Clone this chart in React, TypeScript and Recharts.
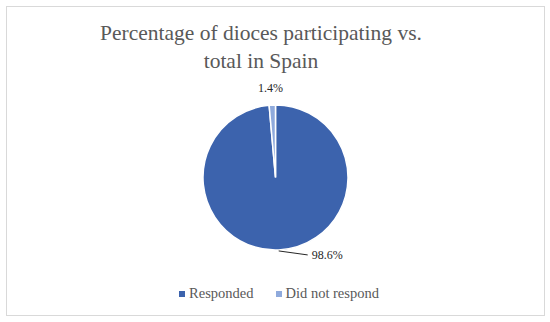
import React from "react";
import { PieChart, Pie, Cell, Legend } from "recharts";

const CATEGORIAS = ["Responded", "Did not respond"];
const PORCENTAJES = [98.6, 1.4];
const COLORES = ["#3c63ad", "#8faadc"];

const FUENTE = "'Liberation Serif', 'DejaVu Serif', serif";
const RAD = Math.PI / 180;

const datos = CATEGORIAS.map((name, i) => ({ name, value: PORCENTAJES[i] }));

// Etiqueta de cada porción: la grande lleva una línea guía hacia abajo a la
// derecha, la chica va justo encima del borde sin línea.
function Etiqueta(props: any) {
  const { cx, cy, midAngle, outerRadius, index, value } = props;
  const cos = Math.cos(-midAngle * RAD);
  const sin = Math.sin(-midAngle * RAD);
  const texto = `${Number(value).toFixed(1)}%`;
  if (index === 0) {
    const x0 = cx + outerRadius * cos;
    const y0 = cy + outerRadius * sin;
    const x1 = x0 + 29;
    const y1 = y0 + 5;
    return (
      <g>
        <path d={`M${x0},${y0 + 1}L${x1},${y1}`} stroke="#262626" strokeWidth={1} fill="none" />
        <text x={x1 + 4} y={y1} fill="#262626" fontSize={12} fontFamily={FUENTE} dominantBaseline="central">
          {texto}
        </text>
      </g>
    );
  }
  const r = outerRadius + 17;
  return (
    <text
      x={cx + r * cos - 1}
      y={cy + r * sin}
      fill="#262626"
      fontSize={12}
      fontFamily={FUENTE}
      textAnchor="middle"
      dominantBaseline="central"
    >
      {texto}
    </text>
  );
}

// Leyenda propia para mantener el orden de las categorías (Recharts las
// ordena alfabéticamente).
function Leyenda() {
  return (
    <div
      style={{
        display: "flex",
        justifyContent: "center",
        gap: 22,
        paddingLeft: 8,
        fontFamily: FUENTE,
        fontSize: 14.5,
        color: "#595959",
      }}
    >
      {CATEGORIAS.map((c, i) => (
        <span key={c} style={{ display: "flex", alignItems: "center" }}>
          <span style={{ width: 6, height: 6, background: COLORES[i], marginRight: 4, display: "inline-block" }} />
          {c}
        </span>
      ))}
    </div>
  );
}

export default function App() {
  return (
    <div style={{ position: "absolute", left: 0, top: 0, width: 550, height: 322, background: "#fff" }}>
      <div
        style={{
          position: "absolute",
          left: 6,
          top: 6,
          width: 537,
          height: 308,
          border: "1px solid #d9d9d9",
        }}
      />
      <div
        style={{
          position: "absolute",
          left: 0,
          top: 19,
          width: 522,
          textAlign: "center",
          fontFamily: FUENTE,
          fontSize: 21.5,
          lineHeight: "28px",
          color: "#595959",
        }}
      >
        Percentage of dioces participating vs.
        <br />
        total in Spain
      </div>
      <div style={{ position: "absolute", left: 0, top: 0 }}>
        <PieChart width={550} height={322} margin={{ top: 0, right: 0, bottom: 0, left: 0 }}>
          <Pie
            data={datos}
            dataKey="value"
            nameKey="name"
            cx={275.5}
            cy={177.5}
            outerRadius={72.5}
            startAngle={90}
            endAngle={-270}
            stroke="#ffffff"
            strokeWidth={1.5}
            label={Etiqueta}
            labelLine={false}
            isAnimationActive={false}
          >
            {datos.map((d, i) => (
              <Cell key={d.name} fill={COLORES[i]} />
            ))}
          </Pie>
          <Legend content={<Leyenda />} verticalAlign="bottom" wrapperStyle={{ bottom: 20 }} />
        </PieChart>
      </div>
    </div>
  );
}
